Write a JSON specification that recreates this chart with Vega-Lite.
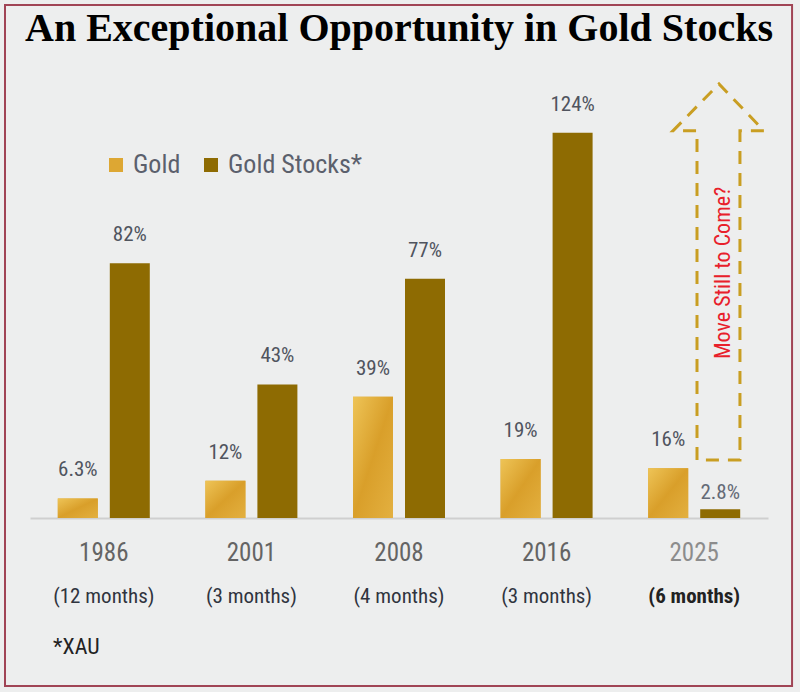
{
  "$schema": "https://vega.github.io/schema/vega-lite/v6.json",
  "width": 738,
  "height": 435,
  "autosize": "none",
  "padding": {"left": 30, "top": 83, "right": 32, "bottom": 174},
  "background": "#EDEEEE",
  "title": {
    "text": "An Exceptional Opportunity in Gold Stocks",
    "font": "Liberation Serif",
    "fontSize": 40,
    "fontWeight": "bold",
    "color": "#000000",
    "anchor": "middle",
    "offset": -45
  },
  "config": {
    "view": {"stroke": null},
    "legend": {"padding": 0}
  },
  "datasets": {
    "bars": [
      {"year": "1986", "months": "(12 months)", "series": "Gold", "value": 6.3, "label": "6.3%"},
      {"year": "1986", "months": "(12 months)", "series": "Gold Stocks*", "value": 82, "label": "82%"},
      {"year": "2001", "months": "(3 months)", "series": "Gold", "value": 12, "label": "12%"},
      {"year": "2001", "months": "(3 months)", "series": "Gold Stocks*", "value": 43, "label": "43%"},
      {"year": "2008", "months": "(4 months)", "series": "Gold", "value": 39, "label": "39%"},
      {"year": "2008", "months": "(4 months)", "series": "Gold Stocks*", "value": 77, "label": "77%"},
      {"year": "2016", "months": "(3 months)", "series": "Gold", "value": 19, "label": "19%"},
      {"year": "2016", "months": "(3 months)", "series": "Gold Stocks*", "value": 124, "label": "124%"},
      {"year": "2025", "months": "(6 months)", "series": "Gold", "value": 16, "label": "16%"},
      {"year": "2025", "months": "(6 months)", "series": "Gold Stocks*", "value": 2.8, "label": "2.8%"}
    ],
    "arrow": [
      {"i": 1, "u": 4.519, "v": 18.7},
      {"i": 2, "u": 4.519, "v": 124.6},
      {"i": 3, "u": 4.356, "v": 124.6},
      {"i": 4, "u": 4.668, "v": 139.7},
      {"i": 5, "u": 4.973, "v": 124.6},
      {"i": 6, "u": 4.810, "v": 124.6},
      {"i": 7, "u": 4.810, "v": 18.7},
      {"i": 8, "u": 4.519, "v": 18.7}
    ],
    "callout": [{"u": 4.695, "v": 78.9, "text": "Move Still to Come?"}],
    "footnote": [{"u": 0.156, "v": -41.5, "text": "*XAU"}],
    "frame": [{"u1": -0.1694, "u2": 5.163, "v1": 165.1, "v2": -54.07}]
  },
  "layer": [
    {
      "layer": [
        {
          "data": {"name": "bars"},
          "mark": {"type": "bar"},
          "encoding": {
            "x": {
              "field": "year", "type": "nominal",
              "scale": {"domain": ["1986", "2001", "2008", "2016", "2025"], "paddingInner": 0, "paddingOuter": 0},
              "axis": {
                "title": null, "ticks": false, "labelAngle": 0,
                "domainColor": "#CFCFCF", "domainWidth": 2,
                "labelFont": "Liberation Sans Narrow, Roboto Condensed, Arial Narrow, sans-serif",
                "labelFontSize": 25,
                "labelColor": {"condition": {"test": "datum.value === '2025'", "value": "#8C8C8C"}, "value": "#646464"},
                "labelPadding": 22
              }
            },
            "xOffset": {"field": "series", "scale": {"domain": ["Gold", "Gold Stocks*"], "paddingInner": 0.2308, "paddingOuter": 0.5346}},
            "y": {"field": "value", "type": "quantitative", "scale": {"domain": [0, 140]}, "axis": null},
            "color": {
              "field": "series", "type": "nominal",
              "scale": {"domain": ["Gold", "Gold Stocks*"], "range": ["#DDA733", "#8E6B02"]},
              "legend": {
                "title": null, "orient": "none", "direction": "horizontal",
                "legendX": 73, "legendY": 69,
                "symbolType": "square", "symbolSize": 196, "symbolStrokeWidth": 0,
                "labelFont": "Liberation Sans Narrow, Roboto Condensed, Arial Narrow, sans-serif",
                "labelFontSize": 26, "labelColor": "#5B606C",
                "labelOffset": 4, "columnPadding": 17
              }
            }
          }
        },
        {
          "data": {"name": "bars"},
          "transform": [{"filter": "datum.series === 'Gold'"}],
          "mark": {
            "type": "bar",
            "color": {
              "gradient": "linear", "x1": 0, "y1": 0, "x2": 1, "y2": 1,
              "stops": [
                {"offset": 0, "color": "#EEC457"},
                {"offset": 0.5, "color": "#D99F2A"},
                {"offset": 1, "color": "#E3B040"}
              ]
            }
          },
          "encoding": {
            "x": {"field": "year", "type": "nominal"},
            "xOffset": {"field": "series"},
            "y": {"field": "value", "type": "quantitative"}
          }
        },
        {
          "data": {"name": "bars"},
          "transform": [{"filter": "!(datum.year === '2025' && datum.series === 'Gold Stocks*')"}],
          "mark": {"type": "text", "dy": -22, "baseline": "alphabetic", "fontSize": 21, "font": "Liberation Sans Narrow, Roboto Condensed, Arial Narrow, sans-serif", "color": "#50545E"},
          "encoding": {
            "x": {"field": "year", "type": "nominal"},
            "xOffset": {"field": "series"},
            "y": {"field": "value", "type": "quantitative"},
            "text": {"field": "label"}
          }
        },
        {
          "data": {"name": "bars"},
          "transform": [{"filter": "datum.year === '2025' && datum.series === 'Gold Stocks*'"}],
          "mark": {"type": "text", "dy": -10, "baseline": "alphabetic", "fontSize": 21, "font": "Liberation Sans Narrow, Roboto Condensed, Arial Narrow, sans-serif", "color": "#646A76"},
          "encoding": {
            "x": {"field": "year", "type": "nominal"},
            "xOffset": {"field": "series"},
            "y": {"field": "value", "type": "quantitative"},
            "text": {"field": "label"}
          }
        },
        {
          "data": {"name": "bars"},
          "transform": [{"filter": "datum.series === 'Gold' && datum.year !== '2025'"}],
          "mark": {"type": "text", "dy": 79, "baseline": "middle", "fontSize": 21, "font": "Liberation Sans Narrow, Roboto Condensed, Arial Narrow, sans-serif", "color": "#30343E"},
          "encoding": {
            "x": {"field": "year", "type": "nominal"},
            "y": {"datum": 0},
            "text": {"field": "months"}
          }
        },
        {
          "data": {"name": "bars"},
          "transform": [{"filter": "datum.series === 'Gold' && datum.year === '2025'"}],
          "mark": {"type": "text", "dy": 79, "baseline": "middle", "fontSize": 21, "fontWeight": "bold", "font": "Liberation Sans Narrow, Roboto Condensed, Arial Narrow, sans-serif", "color": "#222222"},
          "encoding": {
            "x": {"field": "year", "type": "nominal"},
            "y": {"datum": 0},
            "text": {"field": "months"}
          }
        }
      ]
    },
    {
      "layer": [
        {
          "data": {"name": "arrow"},
          "mark": {"type": "line", "stroke": "#C99E22", "strokeWidth": 3, "strokeDash": [13, 9]},
          "encoding": {
            "x": {"field": "u", "type": "quantitative", "scale": {"domain": [0, 5], "nice": false, "zero": false}, "axis": null},
            "y": {"field": "v", "type": "quantitative"},
            "order": {"field": "i"}
          }
        },
        {
          "data": {"name": "callout"},
          "mark": {"type": "text", "angle": 270, "align": "center", "baseline": "middle", "fontSize": 22, "font": "Liberation Sans Narrow, Roboto Condensed, Arial Narrow, sans-serif", "color": "#E8202A"},
          "encoding": {
            "x": {"field": "u", "type": "quantitative"},
            "y": {"field": "v", "type": "quantitative"},
            "text": {"field": "text"}
          }
        },
        {
          "data": {"name": "footnote"},
          "mark": {"type": "text", "align": "left", "baseline": "middle", "fontSize": 22, "font": "Liberation Sans Narrow, Roboto Condensed, Arial Narrow, sans-serif", "color": "#222222"},
          "encoding": {
            "x": {"field": "u", "type": "quantitative"},
            "y": {"field": "v", "type": "quantitative"},
            "text": {"field": "text"}
          }
        },
        {
          "data": {"name": "frame"},
          "mark": {"type": "rect", "fill": null, "fillOpacity": 0, "stroke": "#A04455", "strokeWidth": 2},
          "encoding": {
            "x": {"field": "u1", "type": "quantitative"},
            "x2": {"field": "u2"},
            "y": {"field": "v1", "type": "quantitative"},
            "y2": {"field": "v2"}
          }
        }
      ]
    }
  ],
  "resolve": {"scale": {"x": "independent"}}
}
